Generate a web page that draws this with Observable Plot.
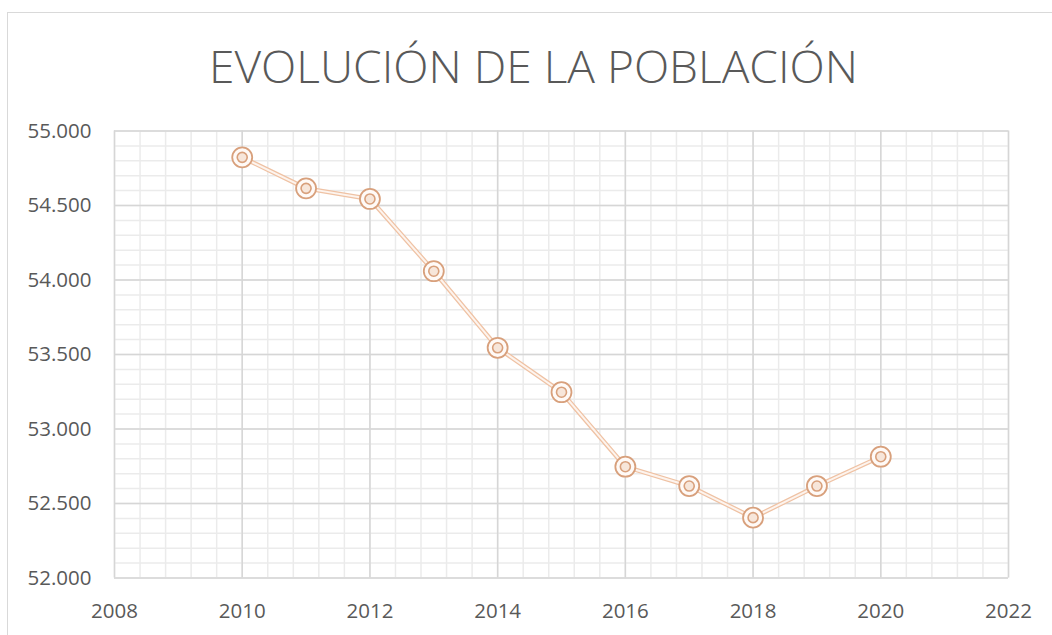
<!DOCTYPE html>
<html>
<head>
<meta charset="utf-8">
<script src="https://cdn.jsdelivr.net/npm/d3@7"></script>
<script src="https://cdn.jsdelivr.net/npm/@observablehq/plot@0.6"></script>
<style>
  html, body { margin: 0; padding: 0; background: #fff; }
  body { width: 1052px; height: 635px; position: relative; overflow: hidden; font-family: "Open Sans", sans-serif; }
  #frame { position: absolute; left: 7px; top: 12px; width: 1100px; height: 700px; border-top: 1.5px solid #d9d9d9; border-left: 1.5px solid #d9d9d9; box-sizing: border-box; }
  #title { position: absolute; left: 0; top: 0; width: 1052px; height: 110px; }
  #title span { position: absolute; white-space: nowrap; font-family: "Open Sans", sans-serif; font-weight: 300; font-size: 47px; line-height: 64px; color: #595959; transform-origin: 0 0; }
  #chart { position: absolute; left: 0; top: 110px; }
</style>
</head>
<body>
<div id="frame"></div>
<div id="title"><span id="t">EVOLUCIÓN DE LA POBLACIÓN</span></div>
<div id="chart"></div>
<script>
const years = [2010, 2011, 2012, 2013, 2014, 2015, 2016, 2017, 2018, 2019, 2020];
const population = [54823, 54615, 54544, 54059, 53545, 53247, 52747, 52617, 52405, 52617, 52814];
const xTicks = [2008, 2010, 2012, 2014, 2016, 2018, 2020, 2022];
const yTicks = [52000, 52500, 53000, 53500, 54000, 54500, 55000];
const xMinorTicks = d3.range(0, 36).map(i => 2008 + i * 0.4);
const yMinorTicks = d3.range(52000, 55001, 100);

const data = years.map((y, i) => ({year: y, value: population[i]}));
const fmt = d => d3.format(",")(d).replace(/,/g, ".");

const plot = Plot.plot({
  width: 1052,
  height: 525,
  marginLeft: 114,
  marginRight: 44,
  marginTop: 20.5,
  marginBottom: 57.5,
  style: { fontFamily: "'Open Sans', sans-serif", fontSize: "20.5px", color: "#595959", background: "transparent" },
  x: { domain: [2008, 2022], ticks: xTicks, tickFormat: d => String(d), tickSize: 0, tickPadding: 25, label: null },
  y: { domain: [52000, 55000], ticks: yTicks, tickFormat: fmt, tickSize: 0, tickPadding: 23, label: null },
  marks: [
    Plot.ruleX(xMinorTicks, { stroke: "#ebebeb", strokeWidth: 1.5 }),
    Plot.ruleY(yMinorTicks, { stroke: "#ebebeb", strokeWidth: 1.5 }),
    Plot.ruleX(xTicks, { stroke: "#d6d6d6", strokeWidth: 1.5 }),
    Plot.ruleY(yTicks, { stroke: "#d6d6d6", strokeWidth: 1.5 }),
    Plot.axisX({ ticks: xTicks, tickFormat: d => String(d), tickSize: 0, tickPadding: 25, fill: "#595959" }),
    Plot.axisY({ ticks: yTicks, tickFormat: fmt, tickSize: 0, tickPadding: 23, fill: "#595959" }),
    Plot.line(data, { x: "year", y: "value", stroke: "#efc2a4", strokeWidth: 4.5 }),
    Plot.line(data, { x: "year", y: "value", stroke: "#fdf4ee", strokeWidth: 2 }),
    Plot.dot(data, { x: "year", y: "value", r: 10, stroke: "#d8a07c", strokeWidth: 1.8, fill: "#fffaf7" }),
    Plot.dot(data, { x: "year", y: "value", r: 5, stroke: "#d8a07c", strokeWidth: 1.6, fill: "#f7e6da" })
  ]
});
document.getElementById("chart").appendChild(plot);

// fit title to measured reference extent (left 209, right 858, baseline ~86)
const t = document.getElementById("t");
const w = t.getBoundingClientRect().width;
const sx = 649 / w;
t.style.left = "209px";
t.style.top = "36px";
t.style.transform = `scale(${sx}, 0.93)`;
</script>
</body>
</html>
